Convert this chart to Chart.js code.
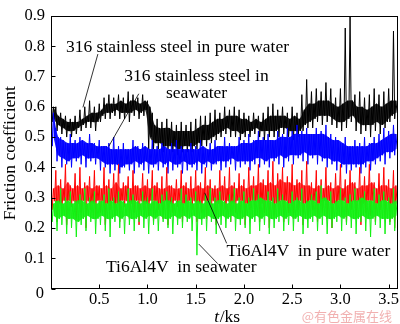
<!DOCTYPE html>
<html>
<head>
<meta charset="utf-8">
<script src="https://cdn.jsdelivr.net/npm/chart.js@4.4.1/dist/chart.umd.min.js"></script>
<style>
  html, body { margin: 0; padding: 0; background: #fff; }
  #wrap { width: 400px; height: 324px; position: relative; }
</style>
</head>
<body>
<div id="wrap"><canvas id="c" width="400" height="324"></canvas></div>
<script>
// ---- data ----
// bucket start times, ks (each bucket 0.05 ks wide)
const timeKs = [0.00,0.05,0.10,0.15,0.20,0.25,0.30,0.35,0.40,0.45,
  0.50,0.55,0.60,0.65,0.70,0.75,0.80,0.85,0.90,0.95,
  1.00,1.05,1.10,1.15,1.20,1.25,1.30,1.35,1.40,1.45,
  1.50,1.55,1.60,1.65,1.70,1.75,1.80,1.85,1.90,1.95,
  2.00,2.05,2.10,2.15,2.20,2.25,2.30,2.35,2.40,2.45,
  2.50,2.55,2.60,2.65,2.70,2.75,2.80,2.85,2.90,2.95,
  3.00,3.05,3.10,3.15,3.20,3.25,3.30,3.35,3.40,3.45,
  3.50,3.55];

// 316 stainless steel in pure water (black): peak / trough in each bucket and the dense core
const ssPureHi = [0.63,0.60,0.58,0.57,0.56,0.57,0.59,0.60,0.62,0.60,
  0.61,0.63,0.64,0.63,0.64,0.63,0.65,0.64,0.63,0.64,
  0.62,0.58,0.56,0.55,0.56,0.55,0.54,0.55,0.54,0.55,
  0.56,0.57,0.57,0.58,0.59,0.58,0.60,0.59,0.60,0.59,
  0.58,0.57,0.58,0.57,0.58,0.60,0.61,0.59,0.60,0.58,
  0.60,0.58,0.64,0.69,0.65,0.66,0.65,0.68,0.66,0.63,
  0.66,0.86,0.90,0.64,0.65,0.63,0.64,0.66,0.64,0.65,
  0.66,0.85];
const ssPureLo = [0.55,0.52,0.51,0.50,0.50,0.51,0.52,0.53,0.53,0.52,
  0.55,0.56,0.56,0.57,0.56,0.56,0.55,0.57,0.56,0.57,
  0.46,0.46,0.46,0.45,0.46,0.45,0.44,0.45,0.45,0.45,
  0.46,0.47,0.47,0.48,0.49,0.50,0.51,0.50,0.50,0.49,
  0.50,0.50,0.51,0.50,0.49,0.50,0.50,0.50,0.51,0.50,
  0.49,0.50,0.52,0.53,0.53,0.55,0.54,0.55,0.54,0.53,
  0.52,0.53,0.55,0.52,0.51,0.52,0.50,0.52,0.51,0.53,
  0.55,0.56];
const ssPureCoreHi = [0.60,0.57,0.56,0.55,0.55,0.55,0.56,0.57,0.58,0.58,
  0.59,0.61,0.61,0.61,0.62,0.61,0.62,0.62,0.61,0.62,
  0.60,0.54,0.53,0.53,0.53,0.52,0.52,0.52,0.52,0.52,
  0.53,0.54,0.54,0.55,0.56,0.56,0.57,0.57,0.57,0.56,
  0.56,0.55,0.56,0.55,0.56,0.57,0.57,0.57,0.57,0.56,
  0.57,0.56,0.59,0.61,0.61,0.62,0.62,0.62,0.61,0.60,
  0.61,0.62,0.62,0.60,0.60,0.59,0.60,0.61,0.60,0.61,
  0.62,0.62];
const ssPureCoreLo = [0.56,0.54,0.53,0.52,0.52,0.53,0.54,0.55,0.55,0.55,
  0.57,0.58,0.58,0.59,0.58,0.58,0.58,0.59,0.58,0.59,
  0.50,0.48,0.48,0.47,0.47,0.47,0.46,0.47,0.47,0.47,
  0.48,0.49,0.49,0.50,0.51,0.52,0.53,0.52,0.52,0.51,
  0.52,0.52,0.53,0.52,0.52,0.52,0.52,0.53,0.53,0.52,
  0.52,0.52,0.54,0.55,0.56,0.57,0.57,0.57,0.56,0.55,
  0.55,0.56,0.57,0.55,0.54,0.54,0.54,0.55,0.54,0.55,
  0.57,0.58];

// 316 stainless steel in seawater (blue)
const ssSeaHi = [0.60,0.53,0.50,0.48,0.51,0.49,0.50,0.48,0.51,0.48,
  0.49,0.47,0.48,0.50,0.47,0.48,0.46,0.49,0.47,0.48,
  0.46,0.49,0.47,0.48,0.46,0.48,0.49,0.47,0.46,0.48,
  0.47,0.49,0.46,0.48,0.49,0.47,0.50,0.48,0.47,0.50,
  0.49,0.51,0.49,0.52,0.50,0.51,0.49,0.52,0.51,0.53,
  0.52,0.54,0.52,0.53,0.51,0.53,0.52,0.54,0.51,0.50,
  0.48,0.50,0.47,0.49,0.48,0.50,0.48,0.50,0.51,0.53,
  0.52,0.54];
const ssSeaLo = [0.47,0.42,0.40,0.41,0.40,0.42,0.41,0.40,0.42,0.41,
  0.39,0.40,0.38,0.39,0.38,0.40,0.39,0.38,0.40,0.39,
  0.38,0.40,0.39,0.40,0.38,0.39,0.40,0.38,0.39,0.40,
  0.39,0.38,0.40,0.39,0.41,0.39,0.40,0.41,0.39,0.40,
  0.41,0.39,0.41,0.40,0.41,0.40,0.42,0.41,0.40,0.42,
  0.41,0.43,0.42,0.41,0.43,0.41,0.42,0.40,0.41,0.39,
  0.40,0.38,0.39,0.40,0.38,0.40,0.39,0.41,0.42,0.41,
  0.43,0.44];
const ssSeaCoreHi = [0.58,0.50,0.49,0.48,0.48,0.48,0.49,0.48,0.48,0.47,
  0.47,0.47,0.46,0.46,0.46,0.46,0.46,0.47,0.46,0.47,
  0.46,0.46,0.46,0.47,0.46,0.46,0.46,0.46,0.46,0.46,
  0.46,0.47,0.46,0.46,0.47,0.47,0.47,0.47,0.47,0.48,
  0.48,0.48,0.49,0.49,0.49,0.49,0.49,0.50,0.50,0.50,
  0.51,0.51,0.51,0.51,0.51,0.51,0.51,0.50,0.49,0.49,
  0.48,0.47,0.47,0.47,0.47,0.47,0.48,0.48,0.49,0.50,
  0.51,0.51];
const ssSeaCoreLo = [0.50,0.44,0.43,0.42,0.43,0.43,0.44,0.43,0.43,0.43,
  0.42,0.41,0.41,0.41,0.40,0.41,0.41,0.42,0.41,0.42,
  0.41,0.41,0.42,0.41,0.42,0.41,0.41,0.42,0.41,0.41,
  0.42,0.41,0.42,0.41,0.42,0.42,0.42,0.43,0.42,0.42,
  0.42,0.42,0.43,0.43,0.42,0.43,0.43,0.44,0.43,0.44,
  0.44,0.44,0.45,0.44,0.44,0.44,0.43,0.43,0.42,0.42,
  0.41,0.41,0.41,0.41,0.41,0.42,0.42,0.43,0.44,0.45,
  0.45,0.46];

// Ti6Al4V in pure water (red)
const tiPureHi = [0.35,0.39,0.36,0.41,0.34,0.38,0.40,0.35,0.37,0.39,
  0.34,0.40,0.36,0.38,0.41,0.35,0.37,0.39,0.34,0.38,
  0.36,0.39,0.35,0.37,0.40,0.34,0.36,0.39,0.35,0.37,
  0.39,0.35,0.40,0.36,0.34,0.39,0.37,0.40,0.35,0.38,
  0.36,0.40,0.37,0.41,0.36,0.39,0.42,0.38,0.40,0.37,
  0.41,0.36,0.39,0.42,0.35,0.39,0.36,0.40,0.35,0.38,
  0.41,0.36,0.39,0.35,0.40,0.37,0.41,0.35,0.38,0.40,
  0.36,0.39];
const tiPureLo = [0.26,0.22,0.25,0.21,0.27,0.23,0.25,0.20,0.26,0.23,
  0.25,0.21,0.26,0.24,0.22,0.27,0.23,0.25,0.21,0.26,
  0.24,0.22,0.26,0.23,0.21,0.25,0.27,0.22,0.24,0.26,
  0.22,0.25,0.23,0.26,0.21,0.24,0.26,0.22,0.25,0.23,
  0.21,0.26,0.24,0.22,0.25,0.20,0.24,0.26,0.22,0.25,
  0.23,0.26,0.21,0.24,0.26,0.22,0.25,0.23,0.20,0.26,
  0.24,0.22,0.26,0.23,0.21,0.25,0.24,0.22,0.26,0.23,
  0.22,0.20];
const tiPureCoreHi = [0.33,0.34,0.33,0.35,0.33,0.34,0.33,0.34,0.33,0.34,
  0.33,0.34,0.33,0.35,0.33,0.34,0.33,0.34,0.33,0.34,
  0.33,0.34,0.33,0.33,0.34,0.33,0.33,0.34,0.33,0.33,
  0.34,0.33,0.34,0.33,0.33,0.34,0.33,0.34,0.33,0.34,
  0.33,0.34,0.34,0.35,0.34,0.35,0.34,0.36,0.35,0.35,
  0.34,0.35,0.34,0.34,0.33,0.34,0.33,0.34,0.33,0.34,
  0.33,0.34,0.35,0.33,0.34,0.34,0.35,0.33,0.34,0.34,
  0.33,0.34];
const tiPureCoreLo = [0.29,0.28,0.29,0.29,0.29,0.28,0.29,0.29,0.28,0.29,
  0.29,0.28,0.29,0.28,0.29,0.29,0.28,0.29,0.29,0.28,
  0.29,0.29,0.28,0.29,0.28,0.29,0.29,0.28,0.29,0.29,
  0.28,0.29,0.29,0.29,0.28,0.29,0.29,0.28,0.29,0.29,
  0.28,0.29,0.29,0.28,0.29,0.29,0.28,0.29,0.29,0.28,
  0.29,0.29,0.28,0.29,0.29,0.28,0.29,0.29,0.28,0.29,
  0.29,0.28,0.29,0.29,0.28,0.29,0.29,0.28,0.29,0.29,
  0.28,0.28];

// Ti6Al4V in seawater (green)
const tiSeaHi = [0.31,0.29,0.33,0.30,0.32,0.29,0.31,0.33,0.30,0.32,
  0.29,0.31,0.33,0.30,0.32,0.29,0.33,0.31,0.29,0.32,
  0.30,0.33,0.29,0.31,0.32,0.30,0.29,0.33,0.31,0.30,
  0.32,0.29,0.31,0.33,0.30,0.32,0.29,0.31,0.33,0.30,
  0.32,0.30,0.33,0.31,0.29,0.32,0.30,0.33,0.31,0.29,
  0.32,0.30,0.33,0.29,0.31,0.32,0.34,0.30,0.32,0.29,
  0.33,0.30,0.31,0.33,0.30,0.32,0.29,0.33,0.31,0.32,
  0.30,0.33];
const tiSeaLo = [0.22,0.19,0.21,0.18,0.20,0.17,0.21,0.19,0.22,0.18,
  0.21,0.19,0.17,0.22,0.20,0.18,0.21,0.19,0.22,0.20,
  0.18,0.21,0.19,0.22,0.20,0.18,0.21,0.20,0.22,0.19,
  0.11,0.21,0.19,0.22,0.18,0.21,0.20,0.22,0.19,0.21,
  0.20,0.18,0.22,0.19,0.21,0.18,0.20,0.22,0.19,0.21,
  0.19,0.22,0.18,0.20,0.22,0.19,0.21,0.18,0.20,0.22,
  0.19,0.21,0.20,0.18,0.22,0.19,0.17,0.21,0.20,0.18,
  0.21,0.19];
const tiSeaCoreHi = [0.28,0.29,0.28,0.29,0.28,0.29,0.29,0.28,0.29,0.28,
  0.29,0.28,0.29,0.28,0.29,0.28,0.29,0.29,0.28,0.29,
  0.28,0.29,0.28,0.29,0.29,0.28,0.29,0.28,0.29,0.28,
  0.29,0.28,0.29,0.28,0.29,0.29,0.28,0.29,0.28,0.29,
  0.28,0.29,0.29,0.30,0.29,0.29,0.28,0.29,0.29,0.28,
  0.29,0.29,0.28,0.29,0.29,0.28,0.30,0.29,0.28,0.29,
  0.29,0.28,0.29,0.29,0.30,0.29,0.29,0.28,0.29,0.29,
  0.28,0.29];
const tiSeaCoreLo = [0.24,0.23,0.24,0.23,0.23,0.22,0.23,0.24,0.23,0.23,
  0.24,0.23,0.23,0.24,0.23,0.24,0.23,0.23,0.24,0.23,
  0.24,0.23,0.24,0.23,0.23,0.24,0.23,0.24,0.23,0.24,
  0.23,0.23,0.24,0.23,0.23,0.24,0.23,0.24,0.23,0.23,
  0.24,0.23,0.24,0.23,0.24,0.23,0.23,0.24,0.23,0.24,
  0.23,0.24,0.23,0.23,0.24,0.23,0.24,0.23,0.23,0.24,
  0.23,0.24,0.23,0.23,0.24,0.23,0.23,0.24,0.23,0.23,
  0.23,0.24];

const yTicks = [0, 0.1, 0.2, 0.3, 0.4, 0.5, 0.6, 0.7, 0.8, 0.9];
const xTicks = [0.5, 1.0, 1.5, 2.0, 2.5, 3.0, 3.5];

// annotation labels: text anchor and leader line in data coordinates (t, value)
const labels = [
  { lines: ['316 stainless steel in pure water'], at: [0.155, 0.796], leader: [[0.486, 0.774], [0.331, 0.598]] },
  { lines: ['316 stainless steel in', 'seawater'], at: [0.760, 0.699], leader: [[0.910, 0.643], [0.600, 0.470]] },
  { lines: ['Ti6Al4V  in pure water'], at: [1.820, 0.124], leader: [[1.821, 0.149], [1.593, 0.316]] },
  { lines: ['Ti6Al4V  in seawater'], at: [0.570, 0.069], leader: [[1.728, 0.082], [1.531, 0.147]] }
];

// ---- build point lists from the arrays ----
const q = (timeKs[1] - timeKs[0]) / 4;
// in each bucket the trace visits: peak, trough, core top, core bottom
function trace(hi, lo, cHi, cLo) {
  const pts = [];
  for (let i = 0; i < timeKs.length; i++) {
    pts.push({ x: timeKs[i], y: hi[i] });
    pts.push({ x: timeKs[i] + q, y: lo[i] });
    pts.push({ x: timeKs[i] + 2 * q, y: cHi[i] });
    pts.push({ x: timeKs[i] + 3 * q, y: cLo[i] });
  }
  return pts;
}
function edge(vals) {
  return timeKs.map((t, i) => ({ x: t + 2 * q, y: vals[i] }));
}

const SERIF = '"Liberation Serif", "Times New Roman", serif';
const FS = 17.5;

const decor = {
  id: 'decor',
  afterDraw(chart) {
    const { ctx, chartArea: a, scales: { x, y } } = chart;
    ctx.save();
    ctx.strokeStyle = '#000';
    ctx.lineWidth = 1;
    const L = Math.round(a.left) + 0.5, R = Math.round(a.right) - 0.5;
    const T = Math.round(a.top) + 0.5, B = Math.round(a.bottom) - 0.5;
    ctx.strokeRect(L, T, R - L, B - T);
    ctx.beginPath();
    yTicks.forEach(v => { const p = Math.round(y.getPixelForValue(v)) + 0.5; ctx.moveTo(L, p); ctx.lineTo(L + 4, p); });
    xTicks.forEach(v => { const p = Math.round(x.getPixelForValue(v)) + 0.5; ctx.moveTo(p, B); ctx.lineTo(p, B - 4); });
    ctx.stroke();

    ctx.fillStyle = '#000';
    ctx.font = FS - 1 + 'px ' + SERIF;
    ctx.textAlign = 'right';
    ctx.textBaseline = 'middle';
    ctx.fillText('0', a.left - 7, y.getPixelForValue(0) + 5);

    ctx.font = FS + 'px ' + SERIF;
    labels.forEach(lb => {
      const tx = x.getPixelForValue(lb.at[0]);
      const ty = y.getPixelForValue(lb.at[1]);
      const w0 = ctx.measureText(lb.lines[0]).width;
      lb.lines.forEach((s, k) => {
        ctx.textAlign = k === 0 ? 'left' : 'center';
        ctx.fillText(s, k === 0 ? tx : tx + w0 / 2, ty + 16.5 * k);
      });
      ctx.beginPath();
      ctx.lineWidth = 0.8;
      ctx.moveTo(x.getPixelForValue(lb.leader[0][0]), y.getPixelForValue(lb.leader[0][1]));
      ctx.lineTo(x.getPixelForValue(lb.leader[1][0]), y.getPixelForValue(lb.leader[1][1]));
      ctx.stroke();
    });

    ctx.save();
    ctx.translate(10, (a.top + a.bottom) / 2 + 1);
    ctx.rotate(-Math.PI / 2);
    ctx.textAlign = 'center';
    ctx.textBaseline = 'middle';
    ctx.fillText('Friction coefficient', 0, 0);
    ctx.restore();

    const it = 'italic ' + FS + 'px ' + SERIF;
    const nt = FS + 'px ' + SERIF;
    ctx.font = it; const w1 = ctx.measureText('t').width;
    ctx.font = nt; const w2 = ctx.measureText('/ks').width;
    const cx = 227 - (w1 + w2) / 2;
    ctx.textAlign = 'left';
    ctx.textBaseline = 'middle';
    ctx.font = it; ctx.fillText('t', cx, 317);
    ctx.font = nt; ctx.fillText('/ks', cx + w1 + 0.5, 317);

    ctx.fillStyle = 'rgba(236,150,150,0.75)';
    ctx.font = '13px "Noto Sans CJK SC", sans-serif';
    ctx.textAlign = 'right';
    ctx.fillText('@有色金属在线', 392, 316);
    ctx.restore();
  }
};

const lineOpts = { pointRadius: 0, borderWidth: 1, tension: 0, fill: false };
const edgeOpts = { pointRadius: 0, borderWidth: 0, borderColor: 'rgba(0,0,0,0)', tension: 0.3 };

const series = [
  { name: 'Ti6Al4V in seawater', hi: tiSeaHi, lo: tiSeaLo, cHi: tiSeaCoreHi, cLo: tiSeaCoreLo, color: '#14f014', core: 'rgba(20,240,20,0.9)' },
  { name: 'Ti6Al4V in pure water', hi: tiPureHi, lo: tiPureLo, cHi: tiPureCoreHi, cLo: tiPureCoreLo, color: '#ff0000', core: 'rgba(255,0,0,0.6)' },
  { name: '316 stainless steel in seawater', hi: ssSeaHi, lo: ssSeaLo, cHi: ssSeaCoreHi, cLo: ssSeaCoreLo, color: '#0000ff', core: 'rgba(0,0,255,0.9)' },
  { name: '316 stainless steel in pure water', hi: ssPureHi, lo: ssPureLo, cHi: ssPureCoreHi, cLo: ssPureCoreLo, color: '#000000', core: 'rgba(0,0,0,0.85)' }
];
const datasets = [];
series.forEach((s, k) => {
  datasets.push({ label: s.name, data: trace(s.hi, s.lo, s.cHi, s.cLo), borderColor: s.color, order: k + 1, ...lineOpts });
  datasets.push({ label: s.name + ' core top', data: edge(s.cHi), order: k + 1, fill: '+1', backgroundColor: s.core, ...edgeOpts });
  datasets.push({ label: s.name + ' core bottom', data: edge(s.cLo), order: k + 1, fill: false, ...edgeOpts });
});

new Chart(document.getElementById('c'), {
  type: 'line',
  data: { datasets },
  options: {
    responsive: false,
    animation: false,
    events: [],
    layout: { padding: { top: 7.5, right: 1, left: 0, bottom: 0 } },
    plugins: { legend: { display: false }, tooltip: { enabled: false }, filler: { drawTime: 'beforeDatasetDraw' } },
    scales: {
      x: {
        type: 'linear', min: 0, max: 3.6,
        afterFit: s => { s.height = 35.5; },
        afterBuildTicks: s => { s.ticks = xTicks.map(v => ({ value: v })); },
        grid: { display: false, drawTicks: false },
        border: { display: false },
        ticks: { autoSkip: false, maxRotation: 0, padding: 1, color: '#000',
          font: { family: SERIF, size: FS - 1 }, callback: v => v.toFixed(1) }
      },
      y: {
        type: 'linear', min: 0, max: 0.9,
        afterFit: s => { s.width = 51; },
        afterBuildTicks: s => { s.ticks = yTicks.map(v => ({ value: v })); },
        grid: { display: false, drawTicks: false },
        border: { display: false },
        ticks: { autoSkip: false, padding: 6, color: '#000',
          font: { family: SERIF, size: FS - 1 }, callback: v => v === 0 ? '' : v.toFixed(1) }
      }
    }
  },
  plugins: [decor]
});
</script>
</body>
</html>
